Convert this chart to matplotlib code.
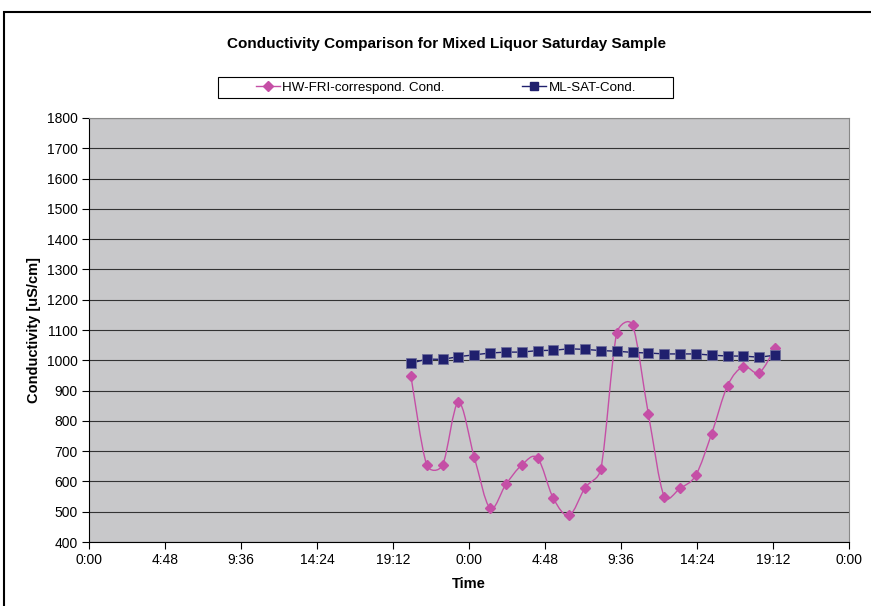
import numpy as np
import matplotlib
matplotlib.use('Agg')
import matplotlib.pyplot as plt
from matplotlib.path import Path
from matplotlib.patches import PathPatch, Rectangle
from matplotlib.lines import Line2D

plt.rcParams['font.family'] = ['Liberation Sans', 'DejaVu Sans']

# sample times in days (hourly, starting ~20:20 on day one)
t_start = 0.847
n_pts = 24
times = t_start + np.arange(n_pts) / 24.0

hw_fri = [949, 655, 654, 861, 681, 512, 590, 654, 677, 544, 488, 579,
          642, 1089, 1116, 823, 550, 577, 621, 758, 916, 979, 959, 1040]
ml_sat = [990, 1004, 1003, 1012, 1018, 1024, 1027, 1027, 1032, 1033, 1038, 1036,
          1032, 1030, 1026, 1024, 1021, 1021, 1021, 1017, 1014, 1014, 1010, 1017]

x_ticks = np.arange(0, 2.01, 0.2)
y_ticks = np.arange(400, 1801, 100)

pink = '#C54FA6'
navy = '#20206E'


def tick_label(v):
    mins = int(round(v * 1440)) % 1440
    return f"{mins // 60}:{mins % 60:02d}"


def smooth_path(ax, xs, ys):
    # excel-style smoothed line: bezier arms (p[i+1]-p[i-1])/6,
    # capped at half the segment length, worked out in screen space
    pts = ax.transData.transform(np.column_stack([xs, ys]))
    n = len(pts)
    verts = [pts[0]]
    for i in range(n - 1):
        p0 = pts[max(i - 1, 0)]
        p1 = pts[i]
        p2 = pts[i + 1]
        p3 = pts[min(i + 2, n - 1)]
        d12 = np.hypot(*(p2 - p1))
        d02 = np.hypot(*(p2 - p0))
        d13 = np.hypot(*(p3 - p1))
        f = 1 / 6 if d02 / 6 < d12 / 2 else d12 / (2 * d02)
        g = 1 / 6 if d13 / 6 < d12 / 2 else d12 / (2 * d13)
        verts += [p1 + (p2 - p0) * f, p2 - (p3 - p1) * g, p2]
    verts = ax.transData.inverted().transform(np.array(verts))
    codes = [Path.MOVETO] + [Path.CURVE4] * (len(verts) - 1)
    return Path(verts, codes)


fig = plt.figure(figsize=(8.71, 6.06), dpi=100)
fig.patches.append(Rectangle((4 / 871, -0.1), 1.2, 1 - 12 / 606 + 0.1,
                             transform=fig.transFigure, fill=False,
                             edgecolor='black', linewidth=1.5))
# legend box
fig.patches.append(Rectangle((218 / 871, 1 - 98 / 606), 455 / 871, 21 / 606,
                             transform=fig.transFigure, fill=False,
                             edgecolor='black', linewidth=0.8))

ax = fig.add_axes([89 / 871, 1 - 542 / 606, 760 / 871, 424 / 606])
ax.set_facecolor('#C8C8CA')
ax.set_xlim(0, 2)
ax.set_ylim(400, 1800)

ax.add_patch(PathPatch(smooth_path(ax, times, hw_fri), facecolor='none',
                       edgecolor=pink, linewidth=1.0, zorder=3))
ax.plot(times, hw_fri, linestyle='none', marker='D', markersize=5,
        color=pink, zorder=4)
ax.plot(times, ml_sat, color=navy, linewidth=1.0, marker='s', markersize=6.5,
        markeredgecolor='#6E6E9A', markeredgewidth=0.6, zorder=5)

ax.set_xticks(x_ticks)
ax.set_xticklabels([tick_label(v) for v in x_ticks])
ax.set_yticks(y_ticks)
ax.yaxis.grid(True, color='#333333', linewidth=0.8)
ax.set_axisbelow(True)
ax.tick_params(direction='out', length=5, width=0.8, labelsize=10, pad=3,
               colors='black')

for side in ['top', 'right']:
    ax.spines[side].set_color('#888888')
    ax.spines[side].set_linewidth(0.8)
for side in ['left', 'bottom']:
    ax.spines[side].set_color('black')
    ax.spines[side].set_linewidth(0.8)

ax.set_xlabel('Time', fontsize=10.5, fontweight='bold', labelpad=7)
ax.set_ylabel('Conductivity [uS/cm]', fontsize=10.5, fontweight='bold', labelpad=4)

fig.text(446 / 871, 1 - 44 / 606, 'Conductivity Comparison for Mixed Liquor Saturday Sample',
         ha='center', va='center', fontsize=11, fontweight='bold')

handles = [Line2D([], [], color=pink, marker='D', markersize=5, linewidth=1.0),
           Line2D([], [], color=navy, marker='s', markersize=6, linewidth=1.0)]
fig.legend(handles, ['HW-FRI-correspond. Cond.', 'ML-SAT-Cond.'],
           loc='center', bbox_to_anchor=(446 / 871, 1 - 87.5 / 606),
           ncol=2, fontsize=9.6, frameon=False, handlelength=1.8,
           columnspacing=5.8, borderpad=0.2, handletextpad=0.2)

fig.savefig('out.png', dpi=100)
